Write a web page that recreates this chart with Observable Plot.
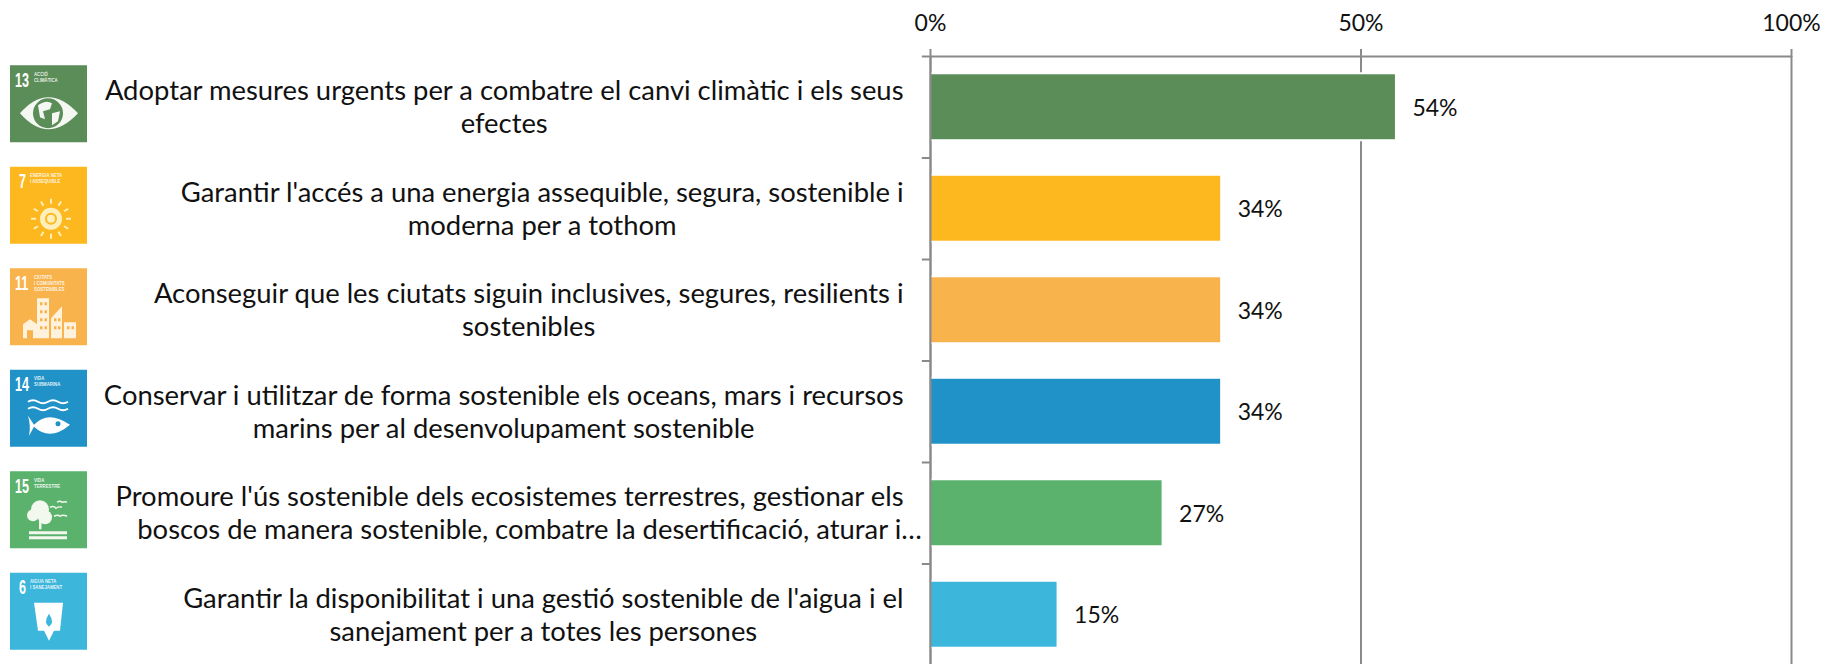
<!DOCTYPE html>
<html><head><meta charset="utf-8">
<script src="https://cdn.jsdelivr.net/npm/d3@7"></script>
<script src="https://cdn.jsdelivr.net/npm/@observablehq/plot@0.6"></script>
<style>html,body{margin:0;padding:0;background:#fff;overflow:hidden}svg{display:block}</style>
</head><body><div id="chart"></div>
<script>
const goals = [13, 7, 11, 14, 15, 6];
const labels = [
  "Adoptar mesures urgents per a combatre el canvi climàtic i els seus\nefectes",
  "Garantir l'accés a una energia assequible, segura, sostenible i\nmoderna per a tothom",
  "Aconseguir que les ciutats siguin inclusives, segures, resilients i\nsostenibles",
  "Conservar i utilitzar de forma sostenible els oceans, mars i recursos\nmarins per al desenvolupament sostenible",
  "Promoure l'ús sostenible dels ecosistemes terrestres, gestionar els\nboscos de manera sostenible, combatre la desertificació, aturar i…",
  "Garantir la disponibilitat i una gestió sostenible de l'aigua i el\nsanejament per a totes les persones"
];
const values = [54, 33.7, 33.7, 33.7, 26.9, 14.7];
const colors = ["#5B8D58", "#FDB71F", "#F8B34C", "#2092C8", "#5BB26D", "#3DB6DC"];
const captions = [
  ["ACCIÓ", "CLIMÀTICA"],
  ["ENERGIA NETA", "I ASSEQUIBLE"],
  ["CIUTATS", "I COMUNITATS", "SOSTENIBLES"],
  ["VIDA", "SUBMARINA"],
  ["VIDA", "TERRESTRE"],
  ["AIGUA NETA", "I SANEJAMENT"]
];
const axisTicks = [0, 50, 100];
const table = goals.map((g, i) => ({goal: g, label: labels[i], value: values[i], color: colors[i], caption: captions[i]}));

const grey = "#8A8A8A";
const font = "Lato, Carlito, sans-serif";
const ICON = 77;

const glyphs = {
  13: (g, c) => {
    g.append("path").attr("d", "M10,48 Q38,16 68,48 Q38,80 10,48Z").attr("fill", "#F4F7F2");
    g.append("circle").attr("cx", 38).attr("cy", 48).attr("r", 15).attr("fill", c);
    g.append("path").attr("d", "M28,40 Q36,34 42,38 L40,44 L33,46 L35,54 L30,52 Z M42,48 L50,46 L48,56 L42,60 Z").attr("fill", "#F4F7F2");
  },
  7: (g) => {
    const cx = 41, cy = 52;
    for (let a = 0; a < 12; a++) {
      g.append("line").attr("x1", cx).attr("x2", cx).attr("y1", cy - 15).attr("y2", cy - 20)
        .attr("transform", `rotate(${a * 30} ${cx} ${cy})`).attr("stroke", "#FFEFB8").attr("stroke-width", 2);
    }
    g.append("circle").attr("cx", cx).attr("cy", cy).attr("r", 11).attr("fill", "#FFEFB8");
    g.append("circle").attr("cx", cx).attr("cy", cy).attr("r", 5).attr("fill", "none").attr("stroke", "#FDB71F").attr("stroke-width", 2);
  },
  11: (g) => {
    const w = "#FFF2DC";
    g.append("path").attr("d", "M13,70 V56 L20,51 L27,56 V70 H23 V62 H17 V70Z").attr("fill", w);
    g.append("rect").attr("x", 27).attr("y", 30).attr("width", 12).attr("height", 40).attr("fill", w);
    g.append("path").attr("d", "M41,70 V50 L52,38 V70Z").attr("fill", w);
    g.append("rect").attr("x", 54).attr("y", 54).attr("width", 12).attr("height", 16).attr("fill", w);
    for (const [x, n] of [[30, 4], [34.5, 4], [44, 2], [48, 2], [57, 1], [61.5, 1]]) {
      for (let k = 0; k < n; k++) g.append("rect").attr("x", x).attr("y", 66 - 8 * (n - k)).attr("width", 2.5).attr("height", 3).attr("fill", "#F8B34C");
    }
  },
  14: (g) => {
    for (const y of [32, 39]) {
      g.append("path").attr("d", `M18,${y} q5,-3 10,0 t10,0 t10,0 t10,0`).attr("fill", "none").attr("stroke", "#fff").attr("stroke-width", 2);
    }
    g.append("path").attr("d", "M18,46 L24,55 Q38,40 60,55 Q40,72 24,57 L19,66 Q21,56 18,46Z").attr("fill", "#fff");
    g.append("circle").attr("cx", 48).attr("cy", 54).attr("r", 2.5).attr("fill", "#2092C8");
  },
  15: (g) => {
    const w = "#F2F8EE";
    g.append("circle").attr("cx", 30).attr("cy", 38).attr("r", 9).attr("fill", w);
    g.append("circle").attr("cx", 23).attr("cy", 44).attr("r", 6).attr("fill", w);
    g.append("circle").attr("cx", 35).attr("cy", 46).attr("r", 7).attr("fill", w);
    g.append("rect").attr("x", 29).attr("y", 50).attr("width", 2.5).attr("height", 8).attr("fill", w);
    g.append("rect").attr("x", 19).attr("y", 60).attr("width", 38).attr("height", 3).attr("fill", w);
    g.append("rect").attr("x", 19).attr("y", 65).attr("width", 38).attr("height", 3).attr("fill", w);
    g.append("path").attr("d", "M40,36 q4,-2 6,1 q3,-2 6,-1 M47,31 q3,-2 5,0 q3,-1 5,0 M44,45 q4,-2 6,0 q3,-2 7,0").attr("fill", "none").attr("stroke", w).attr("stroke-width", 1.4);
  },
  6: (g) => {
    g.append("path").attr("d", "M24,30 H53 L50,58 H44 L39,68 L34,58 H28Z").attr("fill", "#fff");
    g.append("path").attr("d", "M39,41 Q45,50 39,54 Q33,50 39,41Z").attr("fill", "#3DB6DC");
  }
};

const iconMark = (index, scales) => {
  const root = d3.create("svg:g").attr("text-anchor", "start");
  const band = typeof scales.y.bandwidth === "function" ? scales.y.bandwidth() : scales.y.bandwidth;
  for (const d of table) {
    const top = scales.y(d.label) + band / 2 - ICON / 2 - 3;
    const g = root.append("g").attr("transform", `translate(10,${top})`);
    g.append("rect").attr("width", ICON).attr("height", ICON).attr("fill", d.color);
    const two = String(d.goal).length > 1;
    g.append("text").text(d.goal)
      .attr("transform", `translate(${two ? 5 : 9},21.5) scale(0.6,1)`).attr("fill", "#fff")
      .attr("font-family", "'Liberation Sans', sans-serif").attr("font-weight", 700).attr("font-size", 21);
    d.caption.forEach((c, i) => {
      g.append("text").text(c)
        .attr("transform", `translate(${two ? 24 : 20},${10.5 + i * 6.2}) scale(0.72,1)`).attr("fill", "#fff").attr("fill-opacity", 0.88)
        .attr("font-family", "'Liberation Sans', sans-serif").attr("font-weight", 700).attr("font-size", 6);
    });
    glyphs[d.goal](g, d.color);
  }
  return root.node();
};

const step = 101.5;
const plot = Plot.plot({
  width: 1842, height: 664,
  marginTop: 56, marginBottom: 0, marginLeft: 930, marginRight: 51,
  style: {fontFamily: font, background: "#fff", color: "#111"},
  x: {domain: [0, 100], range: [930, 1791]},
  y: {domain: labels, range: [56, 665], paddingInner: 0.36, paddingOuter: 0.18, round: false, axis: null},
  marks: [
    Plot.ruleX(axisTicks, {x: d => d, stroke: grey, strokeWidth: 2}),
    Plot.barX(table, {x: "value", y: "label", fill: "#fff", insetTop: -2, insetBottom: -2, insetRight: -2}),
    Plot.barX(table, {x: "value", y: "label", fill: "color"}),
    Plot.ruleX([0], {stroke: grey, strokeWidth: 2}),
    Plot.ruleY(table, {y: "label", x1: 0, x2: -0.95, dy: -step / 2, stroke: grey, strokeWidth: 2}),
    Plot.ruleY(table.slice(-1), {y: "label", x1: 0, x2: -0.95, dy: step / 2, stroke: grey, strokeWidth: 2}),
    Plot.ruleY(table.slice(0, 1), {y: "label", x1: 0, x2: 100, dy: -step / 2, stroke: grey, strokeWidth: 2}),
    Plot.axisX({anchor: "top", ticks: axisTicks, tickFormat: d => d + "%", tickSize: 8, tickPadding: 18, stroke: grey, strokeWidth: 2, fontSize: 23, fill: "#111", label: null}),
    Plot.text(table, {x: "value", y: "label", text: d => Math.round(d.value) + "%", textAnchor: "start", dx: 17, dy: 1, fontSize: 23, fill: "#111"}),
    Plot.text(table, {y: "label", text: "label", frameAnchor: "left", textAnchor: "middle", lineHeight: 1.2, fontSize: 27.4, dy: -1, fill: "#111", className: "cat"}),
    iconMark
  ]
});
document.getElementById("chart").appendChild(plot);

// Centre each block under its first line, with that line ending at the labels' right edge.
const rightEdge = 903;
d3.select(plot).selectAll(".cat text").each(function () {
  const lines = this.querySelectorAll("tspan");
  const first = lines[0].getComputedTextLength();
  const t = /translate\(([-\d.]+),\s*([-\d.]+)\)/.exec(this.getAttribute("transform") || "");
  this.setAttribute("transform", `translate(${rightEdge - first / 2},${t ? t[2] : 0})`);
  // The truncated line overhangs the block, as in the source label.
  if (lines[1].textContent.endsWith("…")) lines[1].setAttribute("x", 20);
});
</script></body></html>
